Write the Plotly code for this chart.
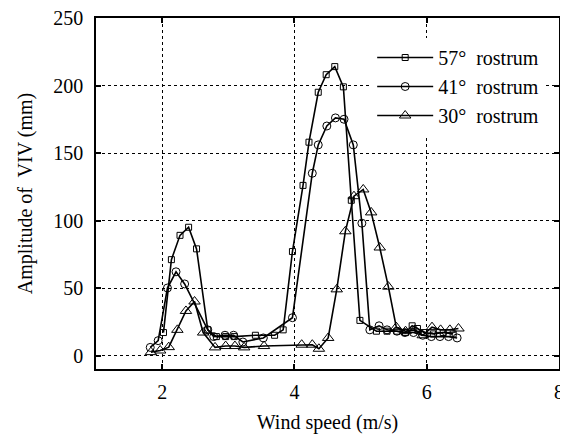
import plotly.graph_objects as go

x57 = [2.02, 2.14, 2.27, 2.40, 2.52, 2.69, 2.82, 2.96, 3.09, 3.41, 3.70, 3.83, 3.97, 4.13, 4.22, 4.36, 4.48, 4.61, 4.74, 4.86, 4.99, 5.24, 5.40, 5.55, 5.68, 5.78, 5.86, 5.96, 6.10, 6.25, 6.40]
y57 = [17, 71, 89, 95, 79, 19, 14, 14, 14, 15, 15, 19, 77, 126, 158, 195, 208, 214, 199, 115, 26, 18, 18, 18, 17, 22, 20, 17, 16, 17, 16]

x41 = [1.82, 1.94, 2.08, 2.21, 2.34, 2.69, 2.78, 2.95, 3.08, 3.22, 3.53, 3.97, 4.27, 4.36, 4.49, 4.62, 4.75, 4.89, 5.02, 5.14, 5.28, 5.40, 5.55, 5.67, 5.80, 5.94, 6.07, 6.20, 6.33, 6.46]
y41 = [6, 11, 50, 62, 53, 19, 14, 15, 15, 10, 13, 28, 135, 156, 170, 176, 175, 156, 98, 19, 22, 19, 18, 17, 17, 15, 14, 14, 14, 13]

x30 = [1.83, 1.97, 2.10, 2.23, 2.36, 2.49, 2.62, 2.80, 2.96, 3.10, 3.24, 3.54, 4.11, 4.27, 4.37, 4.51, 4.64, 4.77, 4.90, 5.04, 5.16, 5.29, 5.42, 5.54, 5.68, 5.82, 5.94, 6.08, 6.21, 6.35, 6.48]
y30 = [2.5, 3.7, 6.2, 19, 33, 40, 17, 6, 7, 7, 6, 7, 8, 8, 5, 13, 49, 92, 118, 123, 106, 80, 51, 21, 18, 19, 15, 21, 19, 19, 20]

names = ["57°\u00a0 rostrum", "41°\u00a0 rostrum", "30°\u00a0 rostrum"]

FONT = "Liberation Serif"

fig = go.Figure()
series = [(x57, y57, "square-open", 6), (x41, y41, "circle-open", 8), (x30, y30, "triangle-up-open", 10)]
for (xs, ys, sym, sz), nm in zip(series, names):
    fig.add_trace(go.Scatter(
        x=xs, y=ys, mode="lines+markers", name=nm,
        line=dict(color="black", width=1.6),
        marker=dict(symbol=sym, size=sz, color="black", line=dict(width=1)),
    ))

axis_common = dict(
    showline=True, linecolor="black", linewidth=1.5, mirror="ticks",
    ticks="inside", ticklen=5, tickcolor="black", tickwidth=1.5,
    showgrid=True, gridcolor="black", griddash="dot", gridwidth=1,
    zeroline=False, automargin=False, ticklabeloverflow="allow",
    tickfont=dict(family=FONT, size=20, color="black"),
)

fig.update_xaxes(range=[1, 8], tickvals=[2, 4, 6, 8], ticklabelstandoff=4,
                 title=dict(text="Wind speed (m/s)", font=dict(family=FONT, size=20, color="black"), standoff=15),
                 **axis_common)
fig.update_yaxes(range=[-10, 250], tickvals=[0, 50, 100, 150, 200, 250], ticklabelstandoff=7,
                 title=dict(text="Amplitude of\u00a0 VIV (mm)", font=dict(family=FONT, size=20, color="black"), standoff=15),
                 **axis_common)

# page body has an 8px margin, so the figure is shrunk and margins shifted by 8px
fig.update_layout(
    width=560, height=426,
    margin=dict(l=88, r=9, t=10, b=65),
    plot_bgcolor="white", paper_bgcolor="white",
    font=dict(family=FONT, color="black"),
    legend=dict(x=0.5965, y=0.943, xanchor="left", yanchor="top",
                bgcolor="white", borderwidth=0,
                font=dict(family=FONT, size=20, color="black"),
                itemwidth=56, tracegroupgap=0),
)

fig.write_html("out.html")
